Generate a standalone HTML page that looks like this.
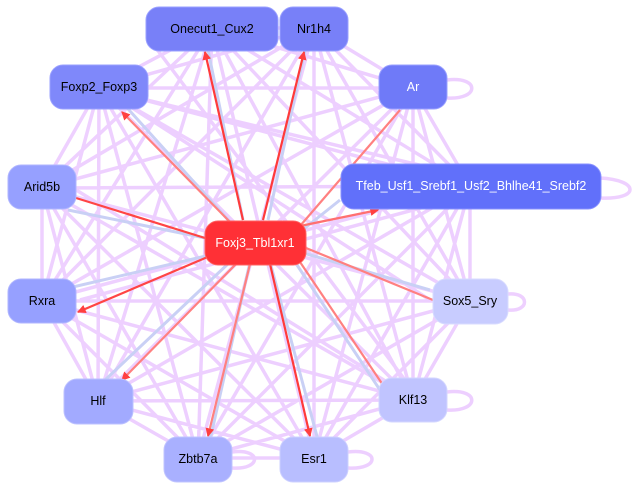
<!DOCTYPE html>
<html><head><meta charset="utf-8"><style>
html,body{margin:0;padding:0;background:#fff;width:632px;height:489px;overflow:hidden}
text{font-family:"Liberation Sans",Arial,sans-serif;font-size:12.5px;text-anchor:middle;dominant-baseline:central}
</style></head><body>
<svg width="632" height="489" viewBox="0 0 632 489" xmlns="http://www.w3.org/2000/svg">
<defs>
<marker id="r" markerWidth="4" markerHeight="4" refX="3.5" refY="2" orient="auto" markerUnits="strokeWidth"><path d="M0,0L4,2L0,4z" fill="#ff4040"/></marker>
</defs>
<g stroke="#edcdff" stroke-width="3.5" fill="none" opacity="0.95">
<path d="M212,28L314,28M212,28L99,88M212,28L413,88M212,28L42,188M212,28L470,186M212,28L42,301M212,28L470,301M212,28L98,401M212,28L413,400M212,28L198,458M212,28L314,458
M314,28L99,88M314,28L413,88M314,28L42,188M314,28L470,186M314,28L42,301M314,28L470,301M314,28L98,401M314,28L413,400M314,28L198,458M314,28L314,458
M99,88L413,88M99,88L42,188M99,88L470,186M99,88L42,301M99,88L470,301M99,88L98,401M99,88L413,400M99,88L198,458M99,88L314,458
M413,88L42,188M413,88L470,186M413,88L42,301M413,88L470,301M413,88L98,401M413,88L413,400M413,88L198,458M413,88L314,458
M42,188L470,186M42,188L42,301M42,188L470,301M42,188L98,401M42,188L413,400M42,188L198,458M42,188L314,458
M470,186L42,301M470,186L470,301M470,186L98,401M470,186L413,400M470,186L198,458M470,186L314,458
M42,301L470,301M42,301L98,401M42,301L413,400M42,301L198,458M42,301L314,458
M470,301L98,401M470,301L413,400M470,301L198,458M470,301L314,458
M98,401L413,400M98,401L198,458M98,401L314,458
M413,400L198,458M413,400L314,458M198,458L314,458
M105,90L440,170M120,100L430,300M60,180L400,390M80,300L450,200M150,40L420,400"/>
<path d="M600,178C640,180 640,200 600,198M447,80C480,76 480,100 447,98M447,392C480,388 480,412 447,410M348,452C380,448 380,470 348,468M232,452C262,448 262,470 232,468M508,294C530,292 530,312 508,310"/>
</g>
<g stroke="#c9d0f5" stroke-width="3" fill="none">
<path d="M208,50L243,220M305,50L268,220M68,210L215,240M60,290L210,255M120,100L230,222M340,200L300,232M105,380L230,262M380,390L295,262M210,440L250,262M318,440L270,262M430,290L300,252"/>
</g>
<g stroke-width="2.2" fill="none">
<path d="M243,220L205,52" stroke="#ff3a3a" marker-end="url(#r)"/>
<path d="M263,220L304,52" stroke="#ff3a3a" marker-end="url(#r)"/>
<path d="M76,198L205,238" stroke="#ff4545"/>
<path d="M210,256L78,312" stroke="#ff4545" marker-end="url(#r)"/>
<path d="M300,226L378,210" stroke="#ff7070" marker-end="url(#r)"/>
<path d="M230,222L122,112" stroke="#ff8080" marker-end="url(#r)"/>
<path d="M236,264L122,380" stroke="#ff8080" marker-end="url(#r)"/>
<path d="M250,264L208,436" stroke="#ff8080" marker-end="url(#r)"/>
<path d="M270,264L310,436" stroke="#ff3a3a" marker-end="url(#r)"/>
<path d="M300,262L385,388" stroke="#ff8080"/>
<path d="M300,226L400,110" stroke="#ff8080"/>
<path d="M306,248L433,300" stroke="#ff8080"/>
</g>
<rect x="146" y="7" width="132" height="44" rx="13" fill="#7880f8" stroke="#9aa0ff"/>
<text x="212" y="29" fill="#000">Onecut1_Cux2</text>
<rect x="280" y="7" width="68" height="44" rx="13" fill="#7880f8" stroke="#9aa0ff"/>
<text x="314" y="29" fill="#000">Nr1h4</text>
<rect x="50" y="65" width="98" height="44" rx="13" fill="#7f88fa" stroke="#9aa0ff"/>
<text x="99" y="87" fill="#000">Foxp2_Foxp3</text>
<rect x="379" y="65" width="68" height="44" rx="13" fill="#6f7af8" stroke="#9aa0ff"/>
<text x="413" y="87" fill="#fff">Ar</text>
<rect x="8" y="165" width="68" height="44" rx="13" fill="#96a0ff" stroke="#b0b6ff"/>
<text x="42" y="187" fill="#000">Arid5b</text>
<rect x="341" y="164" width="260" height="45" rx="13" fill="#6170fa" stroke="#8890ff"/>
<text x="471" y="186" fill="#fff">Tfeb_Usf1_Srebf1_Usf2_Bhlhe41_Srebf2</text>
<rect x="205" y="221" width="101" height="44" rx="13" fill="#ff3036" stroke="#ff6060"/>
<text x="255" y="243" fill="#fff">Foxj3_Tbl1xr1</text>
<rect x="8" y="279" width="68" height="44" rx="13" fill="#96a0ff" stroke="#b0b6ff"/>
<text x="42" y="301" fill="#000">Rxra</text>
<rect x="433" y="279" width="75" height="45" rx="13" fill="#c8ccff" stroke="#d8dbff"/>
<text x="470" y="301" fill="#000">Sox5_Sry</text>
<rect x="64" y="379" width="69" height="45" rx="13" fill="#a2aaff" stroke="#bcc1ff"/>
<text x="98" y="401" fill="#000">Hlf</text>
<rect x="379" y="378" width="68" height="44" rx="13" fill="#c0c4ff" stroke="#d3d6ff"/>
<text x="413" y="400" fill="#000">Klf13</text>
<rect x="164" y="437" width="68" height="45" rx="13" fill="#a9b0ff" stroke="#c0c4ff"/>
<text x="198" y="459" fill="#000">Zbtb7a</text>
<rect x="280" y="437" width="68" height="45" rx="13" fill="#b8beff" stroke="#cdd0ff"/>
<text x="314" y="459" fill="#000">Esr1</text>
</svg>
</body></html>
